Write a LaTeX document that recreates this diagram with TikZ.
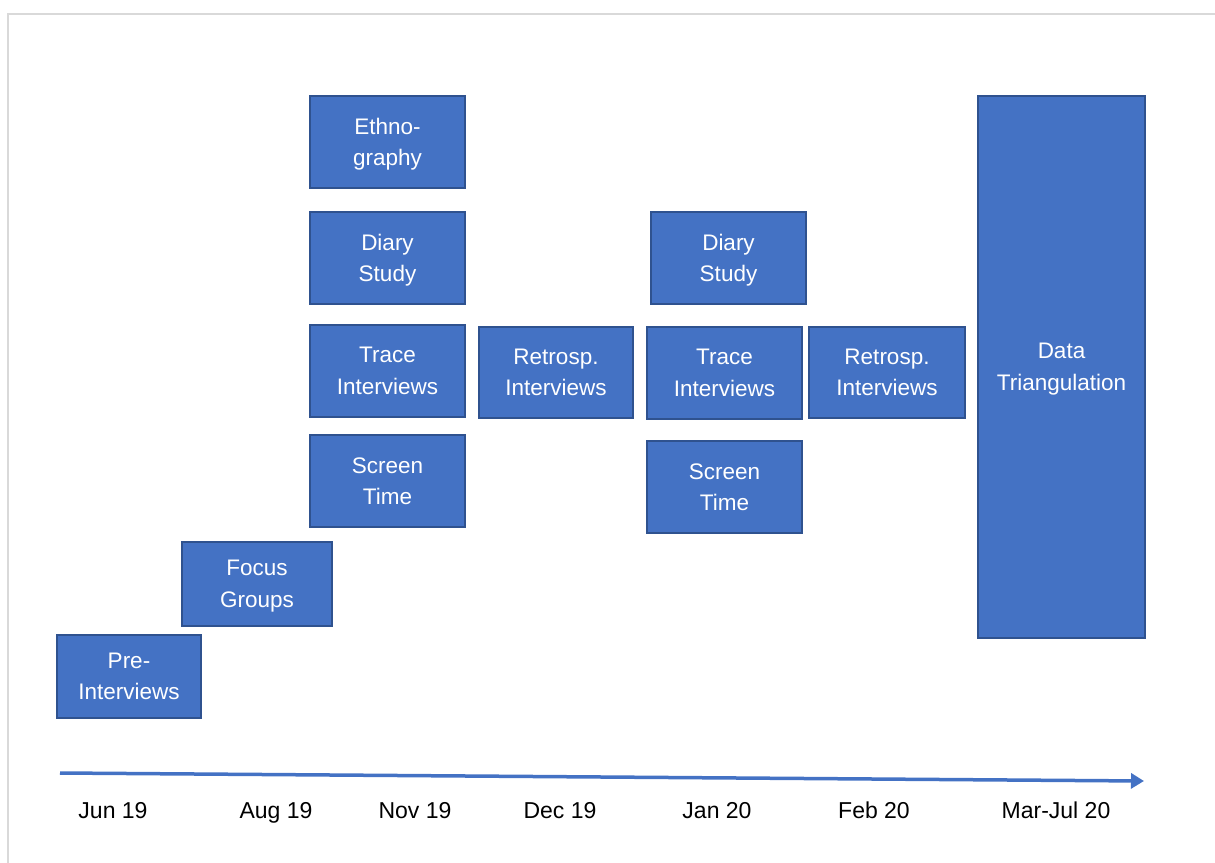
\documentclass[tikz,border=0pt]{standalone}
\usepackage{fontspec}
\setmainfont{Liberation Sans}
\usetikzlibrary{arrows.meta}
\definecolor{boxfill}{HTML}{4472C4}
\definecolor{boxline}{HTML}{2F528F}
\definecolor{framegray}{HTML}{D9D9D9}
\tikzset{
  stage/.style={draw=boxline, line width=1.3pt, fill=boxfill, text=white, align=center,
    font=\fontsize{22.5}{31.5}\selectfont, inner sep=0pt, text depth=0pt},
  datelabel/.style={font=\fontsize{23}{27}\selectfont, text=black, inner sep=0pt, anchor=base},
}
\newcommand{\stagebox}[6]{% name, x0, y0, x1, y1, text
  \node[stage, minimum width={#4-#2}, minimum height={#5-#3}] (#1) at ({(#2+#4)/2},{(#3+#5)/2}) {#6};}
\begin{document}
\begin{tikzpicture}[x=1pt,y=-1pt]
\useasboundingbox (0,0) rectangle (1215,862);
% frame
\draw[framegray, line width=2pt] (8,866) -- (8,14) -- (1220,14);
% stages
\stagebox{pre}{57}{635}{201}{718}{Pre-\\Interviews}
\stagebox{focus}{182}{542}{332}{626}{Focus\\Groups}
\stagebox{ethno}{310}{96}{465}{188}{Ethno-\\graphy}
\stagebox{diaryA}{310}{212}{465}{304}{Diary\\Study}
\stagebox{traceA}{310}{325}{465}{417}{Trace\\Interviews}
\stagebox{screenA}{310}{435}{465}{527}{Screen\\Time}
\stagebox{retroA}{479}{327}{633}{418}{Retrosp.\\Interviews}
\stagebox{diaryB}{651}{212}{806}{304}{Diary\\Study}
\stagebox{traceB}{647}{327}{802}{419}{Trace\\Interviews}
\stagebox{screenB}{647}{441}{802}{533}{Screen\\Time}
\stagebox{retroB}{809}{327}{965}{418}{Retrosp.\\Interviews}
\stagebox{tri}{978}{96}{1145}{638}{Data\\Triangulation}
% timeline
\coordinate (tstart) at (60,773);
\coordinate (tend) at (1144,781);
\draw[boxfill, line width=3.5pt, -{Triangle[length=13pt,width=15pt]}] (tstart) -- (tend);
% dates
\node[datelabel] (d1) at (113,818) {Jun 19};
\node[datelabel] (d2) at (276,818) {Aug 19};
\node[datelabel] (d3) at (415,818) {Nov 19};
\node[datelabel] (d4) at (560,818) {Dec 19};
\node[datelabel] (d5) at (717,818) {Jan 20};
\node[datelabel] (d6) at (874,818) {Feb 20};
\node[datelabel] (d7) at (1056,818) {Mar-Jul 20};
\end{tikzpicture}
\end{document}
